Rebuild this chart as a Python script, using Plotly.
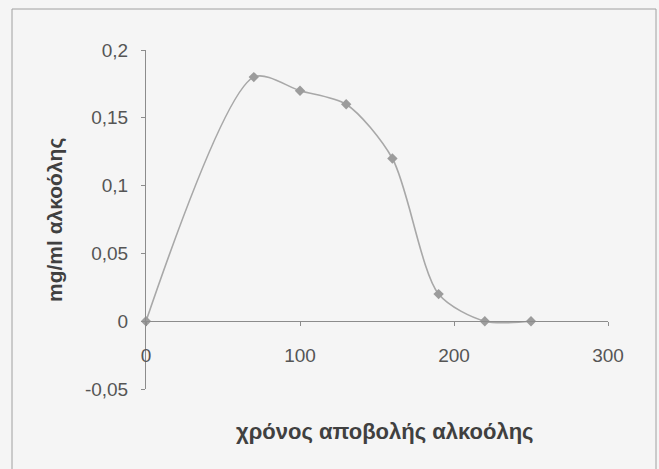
import plotly.graph_objects as go

# Alcohol elimination: time vs concentration
time_min = [0, 70, 100, 130, 160, 190, 220, 250]
alcohol_mg_ml = [0, 0.18, 0.17, 0.16, 0.12, 0.02, 0, 0]

x_tickvals = [0, 100, 200, 300]
x_ticktext = ["0", "100", "200", "300"]
y_tickvals = [-0.05, 0, 0.05, 0.1, 0.15, 0.2]
y_ticktext = ["-0,05", "0", "0,05", "0,1", "0,15", "0,2"]

x_title = "χρόνος αποβολής αλκοόλης"
y_title = "mg/ml αλκοόλης"

FONT = "Arial, Liberation Sans, sans-serif"
BG = "#f5f5f5"
AXIS = "#8c8c8c"
TICK_COLOR = "#555555"
TITLE_COLOR = "#404040"

fig = go.Figure(
    go.Scatter(
        x=time_min,
        y=alcohol_mg_ml,
        mode="lines+markers",
        line=dict(color="#a8a8a8", width=1.6, shape="spline", smoothing=0.8),
        marker=dict(symbol="diamond", size=8, color="#9c9c9c"),
        cliponaxis=False,
        showlegend=False,
    )
)

W, H = 659, 469
ml, mr, mt, mb = 146, 51, 50, 80
y_lo, y_hi = -0.05, 0.2
pw, ph = W - ml - mr, H - mt - mb


def px_x(px):
    return (px - ml) / pw


def px_y(py):
    return 1 - (py - mt) / ph


fig.update_layout(
    width=W,
    height=H,
    margin=dict(l=ml, r=mr, t=mt, b=mb),
    paper_bgcolor=BG,
    plot_bgcolor=BG,
    font=dict(family=FONT, size=19, color=TICK_COLOR),
    xaxis=dict(
        range=[0, 300],
        tickvals=x_tickvals,
        ticktext=x_ticktext,
        showgrid=False,
        zeroline=False,
        showline=True,
        linecolor=AXIS,
        linewidth=1,
        ticks="outside",
        ticklen=4,
        tickcolor=AXIS,
        anchor="free",
        position=(0 - y_lo) / (y_hi - y_lo),
        ticklabelstandoff=13,
        tickfont=dict(size=19, color=TICK_COLOR),
    ),
    yaxis=dict(
        range=[y_lo, y_hi],
        tickvals=y_tickvals,
        ticktext=y_ticktext,
        showgrid=False,
        zeroline=False,
        showline=True,
        linecolor=AXIS,
        linewidth=1,
        ticks="outside",
        ticklen=4,
        tickcolor=AXIS,
        ticklabelstandoff=9,
        tickfont=dict(size=19, color=TICK_COLOR),
    ),
    annotations=[
        dict(
            text=x_title,
            xref="paper", yref="paper",
            x=px_x(385), y=px_y(431),
            xanchor="center", yanchor="middle",
            showarrow=False,
            font=dict(family=FONT, size=22, color=TITLE_COLOR, weight="bold"),
        ),
        dict(
            text=y_title,
            xref="paper", yref="paper",
            x=px_x(55), y=px_y(220),
            xanchor="center", yanchor="middle",
            textangle=-90,
            showarrow=False,
            font=dict(family=FONT, size=21, color=TITLE_COLOR, weight="bold"),
        ),
    ],
    shapes=[
        dict(
            type="rect",
            xref="paper", yref="paper",
            x0=px_x(12), x1=px_x(656),
            y0=px_y(H + 5), y1=px_y(9),
            line=dict(color="#a0a0a0", width=1),
            layer="below",
        )
    ],
)

fig.write_html("out.html")
